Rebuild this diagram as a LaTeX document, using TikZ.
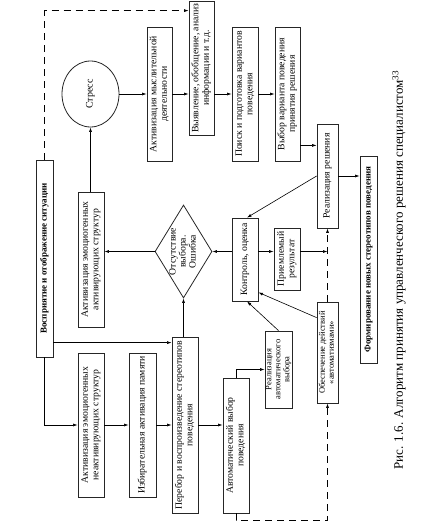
\documentclass[tikz,border=0pt]{standalone}
\usepackage{fontspec}
\usepackage{graphicx}
\setmainfont{Liberation Serif}
\usetikzlibrary{arrows.meta,shapes.geometric,calc}
\newcommand{\rtxt}[1]{\rotatebox{90}{\begin{tabular}{@{}c@{}}#1\end{tabular}}}
\begin{document}
\begin{tikzpicture}[x=1pt,y=-1pt,
 box/.style={draw=black!85, line width=0.8pt, inner sep=0pt, font=\fontsize{9.7}{10.5}\selectfont},
 sbox/.style={box, font=\fontsize{8.5}{9}\selectfont},
 bbox/.style={box, font=\fontsize{9}{10}\selectfont\bfseries},
 arr/.style={-{Latex[length=4.5pt,width=3pt]}, line width=0.6pt},
 dashline/.style={line width=0.7pt, dash pattern=on 7pt off 5pt}]
\useasboundingbox (0,0) rectangle (424,524);
% top row
\node[bbox, minimum width=17pt, minimum height=197pt] (perc) at (44.5,258.5) {\rtxt{Восприятие и отображение ситуации}};
\node[draw=black!85, ellipse, line width=0.8pt, minimum width=57pt, minimum height=66pt, inner sep=0pt, font=\fontsize{10}{10.5}\selectfont] (stress) at (90.5,94) {\rtxt{Стресс}};
\node[box, minimum width=25pt, minimum height=134pt] (actm) at (159.5,94) {\rtxt{Активизация мыслительной\\деятельности}};
\node[box, minimum width=25pt, minimum height=134pt] (vyyav) at (201.5,68) {\rtxt{Выявление, обобщение, анализ\\информации и т.д.}};
\node[box, minimum width=26pt, minimum height=134pt] (poisk) at (245,94) {\rtxt{Поиск и подготовка вариантов\\поведения}};
\node[box, minimum width=25pt, minimum height=134pt] (vybor) at (287.5,94) {\rtxt{Выбор варианта поведения\\принятия решения}};
\node[box, minimum width=21pt, minimum height=104pt] (realr) at (327.5,176) {\rtxt{Реализация решения}};
\node[bbox, minimum width=17pt, minimum height=207pt] (form) at (368.5,259.5) {\rtxt{Формирование новых стереотипов поведения}};
% middle row
\node[box, minimum width=26pt, minimum height=135pt] (aeas) at (91,259.5) {\rtxt{Активизация эмоциогенных\\активирующих структур}};
\node[diamond, draw=black!85, line width=0.8pt, shape aspect=0.613, minimum width=57pt, minimum height=93pt, inner sep=0pt] (dia) at (183.5,251.5) {};
\node[font=\fontsize{9.7}{10}\selectfont, inner sep=0pt] (diat) at (dia.center) {\rtxt{Отсутствие\\выбора.\\Ошибка}};
\node[box, minimum width=26pt, minimum height=83pt] (kontr) at (245,259.5) {\rtxt{Контроль, оценка}};
\node[box, minimum width=26pt, minimum height=62pt] (priem) at (287,259) {\rtxt{Приемлемый\\результат}};
\node[sbox, minimum width=21pt, minimum height=101pt] (obesp) at (327.5,352.5) {\rtxt{Обеспечение действий\\«автоматизмами»}};
\node[sbox, minimum width=27pt, minimum height=77pt] (realavt) at (278.5,369.5) {\rtxt{Реализация\\автоматического\\выбора}};
% bottom row
\node[box, minimum width=26pt, minimum height=144pt] (aenas) at (91,425) {\rtxt{Активизация эмоциогенных\\неактивирующих структур}};
\node[box, minimum width=27pt, minimum height=144pt] (izbir) at (142.5,425) {\rtxt{Избирательная активация памяти}};
\node[box, minimum width=26pt, minimum height=176pt] (perebor) at (185,425) {\rtxt{Перебор и воспроизведение стереотипов\\поведения}};
\node[box, minimum width=26pt, minimum height=135pt] (avtvyb) at (236,445.5) {\rtxt{Автоматический выбор\\поведения}};
% caption
\node[font=\fontsize{13}{15}\selectfont, inner sep=0pt] (cap) at (399,270) {\rotatebox{90}{Рис. 1.6. Алгоритм принятия управленческого решения специалистом\textsuperscript{33}}};
% connectors
\draw[dashline, arr] (perc.north) |- ($(vyyav.north west)+(0,10)$);
\draw[arr] (stress.east) -- (actm.west);
\draw[arr] (actm.east) -- (actm.east -| vyyav.west);
\draw[arr] (vyyav.east |- poisk.west) -- (poisk.west);
\draw[arr] (poisk.east) -- (vybor.west);
\coordinate (v1) at ([yshift=16pt]vybor.south east);
\draw[arr] (v1) -- (v1 -| realr.west);
\draw[arr] (realr.east) -- (realr.east -| form.west);
\draw[arr] (realr.west) -- ([xshift=2pt]kontr.north);
\draw[arr] (dia.west) -- (dia.west -| aeas.east);
\draw[arr] (stress.south |- aeas.north) -- (stress.south);
\draw[arr] (dia.east -| kontr.west) -- (dia.east);
\draw[arr] (dia.east -| kontr.east) -- (dia.east -| priem.west);
\draw[arr] (dia.east -| priem.east) -- (dia.east -| obesp.north);
\draw[dashline, arr] (obesp.north) -- (realr.south);
\draw[arr] ([yshift=-16pt]obesp.north west) -- ([yshift=9pt]kontr.south east);
\draw[arr] (realavt.north) -- ([xshift=2pt]kontr.south);
\draw[arr] (dia.south |- perebor.north) -- (dia.south);
\coordinate (p1) at ([yshift=-6pt]perebor.north west);
\draw[arr] (p1 -| perc.east) -- (p1);
\draw[arr] (perc.south) |- (aenas.west);
\draw[arr] (aenas.east) -- (izbir.west);
\draw[arr] (izbir.east) -- (izbir.east -| perebor.west);
\draw[arr] (perebor.east) -- (perebor.east -| avtvyb.west);
\draw[arr] (avtvyb.north) |- (realavt.west);
\draw[dashline, arr] (avtvyb.south) -- ++(0,7) -| (obesp.south);
\end{tikzpicture}
\end{document}
